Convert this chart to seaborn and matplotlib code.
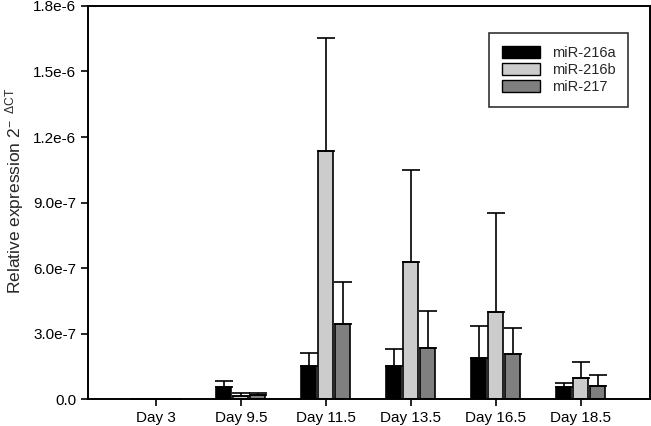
import numpy as np
import pandas as pd
import seaborn as sns
import matplotlib
matplotlib.use("Agg")
import matplotlib.pyplot as plt
from matplotlib.patches import Patch

days = ["Day 3", "Day 9.5", "Day 11.5", "Day 13.5", "Day 16.5", "Day 18.5"]
genes = ["miR-216a", "miR-216b", "miR-217"]

# mean values (x 1e-7)
mir216a = [0.0, 0.56, 1.51, 1.53, 1.89, 0.55]
mir216b = [0.0, 0.15, 11.36, 6.29, 3.98, 0.95]
mir217 = [0.0, 0.18, 3.44, 2.35, 2.05, 0.58]
# upper error (x 1e-7)
err216a = [0.0, 0.28, 0.61, 0.75, 1.48, 0.20]
err216b = [0.0, 0.12, 5.16, 4.19, 4.54, 0.76]
err217 = [0.0, 0.08, 1.93, 1.70, 1.23, 0.51]

yticks = [0.0, 3.0e-7, 6.0e-7, 9.0e-7, 1.2e-6, 1.5e-6, 1.8e-6]
ytick_labels = ["0.0", "3.0e-7", "6.0e-7", "9.0e-7", "1.2e-6", "1.5e-6", "1.8e-6"]

colors = ["#000000", "#cccccc", "#7f7f7f"]

rows = []
for g, vals, errs in zip(genes, [mir216a, mir216b, mir217], [err216a, err216b, err217]):
    for d, v, e in zip(days, vals, errs):
        rows.append({"day": d, "gene": g, "value": v * 1e-7, "err": e * 1e-7})
df = pd.DataFrame(rows)

sns.set_style("white")
plt.rcParams["font.family"] = ["Liberation Sans", "DejaVu Sans"]
plt.rcParams["mathtext.fontset"] = "custom"
plt.rcParams["mathtext.rm"] = "Liberation Sans"
plt.rcParams["mathtext.it"] = "Liberation Sans:italic"

fig = plt.figure(figsize=(6.51, 4.26), dpi=100)
ax = fig.add_axes([0.135, 0.063, 0.863, 0.923])

sns.barplot(data=df, x="day", y="value", hue="gene", order=days, hue_order=genes,
            palette=colors, errorbar=None, width=0.6, gap=0.12,
            edgecolor="black", linewidth=1.2, legend=False, ax=ax)

# one-sided error bars on top of each bar
for gi, g in enumerate(genes):
    sub = df[df["gene"] == g].set_index("day").loc[days]
    bars = ax.containers[gi]
    xs = [b.get_x() + b.get_width() / 2 for b in bars]
    ax.errorbar(xs, sub["value"].values, yerr=[np.zeros(len(days)), sub["err"].values],
                fmt="none", ecolor="black", elinewidth=1.2, capsize=6.5, capthick=1.2)

ax.set_xlim(-0.8, 5.81)
ax.set_ylim(0, 1.8e-6)
ax.set_yticks(yticks)
ax.set_yticklabels(ytick_labels)
ax.set_xlabel("")
ax.set_ylabel(r"Relative expression 2$^{\mathrm{-\ \ \Delta CT}}$", fontsize=12.5, labelpad=5)
ax.yaxis.label.set_y(0.53)
ax.tick_params(axis="both", direction="out", length=5, width=1.2, labelsize=11,
               bottom=True, left=True, colors="black")
for s in ax.spines.values():
    s.set_color("black")
    s.set_linewidth(1.4)

handles = [Patch(facecolor=c, edgecolor="black", linewidth=1.0) for c in colors]
leg = ax.legend(handles, genes, loc="upper right", bbox_to_anchor=(0.975, 0.95),
                fontsize=10.5, frameon=True, fancybox=False, edgecolor="black",
                handlelength=2.6, handleheight=0.85, labelspacing=0.2,
                borderpad=0.9, handletextpad=0.8)
leg.get_frame().set_linewidth(1.2)

fig.savefig("out.png", dpi=100)
